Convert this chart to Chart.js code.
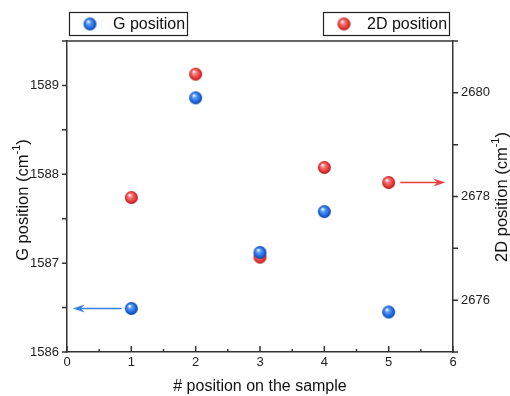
<!DOCTYPE html>
<html>
<head>
<meta charset="utf-8">
<script src="https://cdn.jsdelivr.net/npm/chart.js@4/dist/chart.umd.min.js"></script>
<style>
  html, body { margin: 0; padding: 0; background: #fff; }
</style>
</head>
<body>
<canvas id="ramanChart" width="510" height="396"></canvas>
<script>
// Raman peak positions measured at five spots on the sample
const positions = [1, 2, 3, 4, 5];
const gPeak = [1586.49, 1588.86, 1587.12, 1587.58, 1586.45];
const peak2D = [2677.98, 2680.36, 2676.83, 2678.56, 2678.27];

// labelled ticks on each axis
const xLabels = [0, 1, 2, 3, 4, 5, 6];
const gLabels = [1586, 1587, 1588, 1589];
const d2Labels = [2676, 2678, 2680];

// arrows pointing each series to its own axis (x start, x end)
const gArrowX = [0.85, 0.09];
const d2ArrowX = [5.18, 5.88];

const FONT = '"Liberation Sans", Arial, sans-serif';
const AXIS = '#333';
const TICK_LEN = 5;

// little shaded ball used as the marker
function ball(light, base, dark, r) {
  const c = document.createElement('canvas');
  const s = Math.ceil(r * 2) + 2;
  c.width = s; c.height = s;
  const g = c.getContext('2d');
  const cx = s / 2, cy = s / 2;
  const grad = g.createRadialGradient(cx - r * 0.3, cy - r * 0.4, 0.3, cx, cy, r);
  grad.addColorStop(0, '#ffffff');
  grad.addColorStop(0.3, light);
  grad.addColorStop(0.75, base);
  grad.addColorStop(1, dark);
  g.fillStyle = grad;
  g.beginPath();
  g.arc(cx, cy, r, 0, Math.PI * 2);
  g.fill();
  return c;
}

const blueBall = ball('#5d9cf5', '#1a66e0', '#0c3f9e', 6.5);
const redBall = ball('#f77b7b', '#e73535', '#a81818', 6.5);

function arrow(ctx, x1, x2, y, color) {
  const dir = Math.sign(x2 - x1);
  ctx.save();
  ctx.strokeStyle = color;
  ctx.fillStyle = color;
  ctx.lineWidth = 1.5;
  ctx.beginPath();
  ctx.moveTo(x1, y);
  ctx.lineTo(x2 - dir * 6, y);
  ctx.stroke();
  ctx.beginPath();
  ctx.moveTo(x2, y);
  ctx.lineTo(x2 - dir * 12, y - 4);
  ctx.lineTo(x2 - dir * 8, y);
  ctx.lineTo(x2 - dir * 12, y + 4);
  ctx.closePath();
  ctx.fill();
  ctx.restore();
}

// rotated axis title with a superscript part
function sideTitle(ctx, cx, cy, main, sup, tail) {
  ctx.save();
  ctx.translate(cx, cy);
  ctx.rotate(-Math.PI / 2);
  ctx.fillStyle = '#111';
  ctx.textBaseline = 'middle';
  ctx.textAlign = 'left';
  const big = '16.5px ' + FONT, small = '11px ' + FONT;
  ctx.font = big;
  const w1 = ctx.measureText(main).width;
  const w3 = ctx.measureText(tail).width;
  ctx.font = small;
  const w2 = ctx.measureText(sup).width;
  let x = -(w1 + w2 + w3) / 2;
  ctx.font = big;
  ctx.fillText(main, x, 0);
  x += w1;
  ctx.font = small;
  ctx.fillText(sup, x, -6);
  x += w2;
  ctx.font = big;
  ctx.fillText(tail, x, 0);
  ctx.restore();
}

function legendBox(ctx, left, width, img, text) {
  ctx.save();
  ctx.strokeStyle = '#222';
  ctx.lineWidth = 1.2;
  ctx.strokeRect(left + 0.5, 12.5, width, 23);
  ctx.drawImage(img, left + 21 - img.width / 2, 24 - img.height / 2);
  ctx.fillStyle = '#111';
  ctx.font = '16px ' + FONT;
  ctx.textBaseline = 'middle';
  ctx.fillText(text, left + 44, 24.5);
  ctx.restore();
}

const decorations = {
  id: 'decorations',
  afterDraw(chart) {
    const ctx = chart.ctx;
    const a = chart.chartArea;
    const sx = chart.scales.x, sy = chart.scales.y, sy2 = chart.scales.y2;

    ctx.save();
    ctx.strokeStyle = AXIS;
    ctx.lineWidth = 1.5;
    // top edge of the frame
    ctx.beginPath();
    ctx.moveTo(a.left, a.top);
    ctx.lineTo(a.right, a.top);
    ctx.stroke();

    ctx.beginPath();
    sx.ticks.forEach(t => {
      const p = sx.getPixelForValue(t.value);
      const len = Number.isInteger(t.value) ? 6 : 3;
      ctx.moveTo(p, a.bottom);
      ctx.lineTo(p, a.bottom - len);
    });
    sy.ticks.forEach(t => {
      const p = sy.getPixelForValue(t.value);
      ctx.moveTo(a.left, p);
      ctx.lineTo(a.left - TICK_LEN, p);
    });
    sy2.ticks.forEach(t => {
      const p = sy2.getPixelForValue(t.value);
      ctx.moveTo(a.right, p);
      ctx.lineTo(a.right + TICK_LEN, p);
    });
    ctx.stroke();
    ctx.restore();

    arrow(ctx, sx.getPixelForValue(gArrowX[0]), sx.getPixelForValue(gArrowX[1]),
      sy.getPixelForValue(gPeak[0]), '#3a7fe6');
    arrow(ctx, sx.getPixelForValue(d2ArrowX[0]), sx.getPixelForValue(d2ArrowX[1]),
      sy2.getPixelForValue(peak2D[4]), '#e84040');

    // axis titles
    ctx.save();
    ctx.fillStyle = '#111';
    ctx.font = '16px ' + FONT;
    ctx.textAlign = 'center';
    ctx.textBaseline = 'middle';
    ctx.fillText('# position on the sample', (a.left + a.right) / 2, 387);
    ctx.restore();
    sideTitle(ctx, 23, 200, 'G position (cm', '-1', ')');
    sideTitle(ctx, 502, 197, '2D position (cm', '-1', ')');

    legendBox(ctx, 69, 118, blueBall, 'G position');
    legendBox(ctx, 323, 126, redBall, '2D position');
  }
};

const tickFont = { family: FONT, size: 13 };

new Chart(document.getElementById('ramanChart'), {
  type: 'scatter',
  data: {
    datasets: [
      {
        label: 'G position',
        data: positions.map((x, i) => ({ x: x, y: gPeak[i] })),
        yAxisID: 'y',
        pointStyle: blueBall,
        pointRadius: 7
      },
      {
        label: '2D position',
        data: positions.map((x, i) => ({ x: x, y: peak2D[i] })),
        yAxisID: 'y2',
        pointStyle: redBall,
        pointRadius: 7
      }
    ]
  },
  options: {
    responsive: false,
    animation: false,
    layout: { padding: { top: 41, left: 0, right: 0, bottom: 0 } },
    plugins: {
      legend: { display: false },
      tooltip: { enabled: false }
    },
    scales: {
      x: {
        type: 'linear',
        min: 0,
        max: 6,
        afterFit: s => { s.height = 44; },
        grid: { display: false, drawTicks: false },
        border: { color: AXIS, width: 1.5 },
        ticks: {
          stepSize: 0.5,
          autoSkip: false,
          maxRotation: 0,
          padding: 3,
          color: '#222',
          font: tickFont,
          callback: v => xLabels.includes(v) ? String(v) : ''
        }
      },
      y: {
        position: 'left',
        min: 1586,
        max: 1589.5,
        afterFit: s => { s.width = 67; },
        grid: { display: false, drawTicks: false },
        border: { color: AXIS, width: 1.5 },
        ticks: {
          stepSize: 0.5,
          autoSkip: false,
          padding: TICK_LEN + 3,
          color: '#222',
          font: tickFont,
          callback: v => gLabels.includes(v) ? String(v) : ''
        }
      },
      y2: {
        position: 'right',
        min: 2675,
        max: 2681,
        afterFit: s => { s.width = 57; },
        grid: { display: false, drawTicks: false },
        border: { color: AXIS, width: 1.5 },
        ticks: {
          stepSize: 1,
          autoSkip: false,
          padding: TICK_LEN + 3,
          color: '#222',
          font: tickFont,
          callback: v => d2Labels.includes(v) ? String(v) : ''
        }
      }
    }
  },
  plugins: [decorations]
});
</script>
</body>
</html>
